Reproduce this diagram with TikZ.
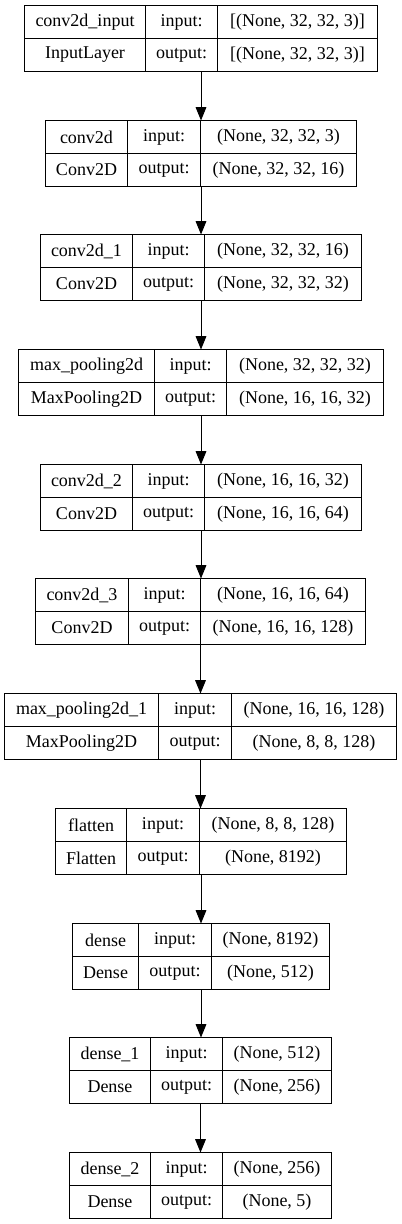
\documentclass[tikz,border=0pt]{standalone}
\usepackage{fontspec}
\setmainfont{Liberation Serif}
\usetikzlibrary{arrows.meta,fit}

\tikzset{
  layerbox/.style={inner sep=0pt, outer sep=0pt},
  gridline/.style={draw=black, line width=0.75pt},
  cell/.style={font=\fontsize{13.5}{16}\selectfont, inner sep=0pt, anchor=center},
  flow/.style={-{Triangle[length=10pt,width=8pt]}, line width=0.75pt, black}
}

\begin{document}
\begin{tikzpicture}[x=0.75pt, y=-0.75pt]
\useasboundingbox (0,0) rectangle (402,1224);

% Layers: {index / top / left / divider 1 / divider 2 / right / name / class / input / output}
\foreach \k/\y/\a/\b/\c/\d/\nm/\cls/\ishape/\oshape in {
  1/5.5/24.5/145.5/217.5/377.5/{conv2d\_input}/{InputLayer}/{[(None, 32, 32, 3)]}/{[(None, 32, 32, 3)]},
  2/120.5/45.5/127.5/200.5/356.5/{conv2d}/{Conv2D}/{(None, 32, 32, 3)}/{(None, 32, 32, 16)},
  3/234.5/40.5/132.5/204.5/361.5/{conv2d\_1}/{Conv2D}/{(None, 32, 32, 16)}/{(None, 32, 32, 32)},
  4/349.5/18.5/154.5/226.5/383.5/{max\_pooling2d}/{MaxPooling2D}/{(None, 32, 32, 32)}/{(None, 16, 16, 32)},
  5/464.5/40.5/132.5/204.5/361.5/{conv2d\_2}/{Conv2D}/{(None, 16, 16, 32)}/{(None, 16, 16, 64)},
  6/578.5/35.5/128.5/200.5/365.5/{conv2d\_3}/{Conv2D}/{(None, 16, 16, 64)}/{(None, 16, 16, 128)},
  7/693.5/4.5/158.5/231.5/396.5/{max\_pooling2d\_1}/{MaxPooling2D}/{(None, 16, 16, 128)}/{(None, 8, 8, 128)},
  8/808.5/55.5/126.5/199.5/346.5/{flatten}/{Flatten}/{(None, 8, 8, 128)}/{(None, 8192)},
  9/923.5/72.5/138.5/211.5/329.5/{dense}/{Dense}/{(None, 8192)}/{(None, 512)},
  10/1037.5/69.5/150.5/222.5/331.5/{dense\_1}/{Dense}/{(None, 512)}/{(None, 256)},
  11/1152.5/69.5/150.5/222.5/331.5/{dense\_2}/{Dense}/{(None, 256)}/{(None, 5)}%
}{
  % outer frame and cell lines
  \node[layerbox, fit={(\a,\y) (\d,\y+66)}] (L\k) {};
  \draw[gridline] (\a,\y) rectangle (\d,\y+66);
  \draw[gridline] (\a,\y+33) -- (\d,\y+33);
  \draw[gridline] (\b,\y) -- (\b,\y+66);
  \draw[gridline] (\c,\y) -- (\c,\y+66);
  % texts
  \node[cell] (L\k-name) at ({(\a+\b)/2},\y+16.5) {\nm};
  \node[cell] (L\k-cls)  at ({(\a+\b)/2},\y+49.5) {\cls};
  \node[cell] (L\k-in)   at ({(\b+\c)/2},\y+16.5) {input:};
  \node[cell] (L\k-out)  at ({(\b+\c)/2},\y+49.5) {output:};
  \node[cell] (L\k-ish)  at ({(\c+\d)/2},\y+16.5) {\ishape};
  \node[cell] (L\k-osh)  at ({(\c+\d)/2},\y+49.5) {\oshape};
}

% Connectors
\foreach \j [count=\k] in {2,...,11}
  \draw[flow] (L\k.south) -- (L\k.south |- L\j.north);

\end{tikzpicture}
\end{document}
